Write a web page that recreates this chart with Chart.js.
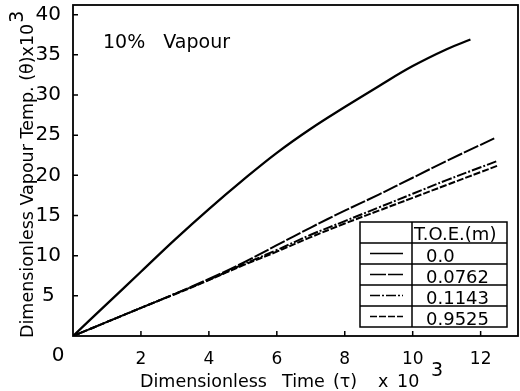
<!DOCTYPE html>
<html>
<head>
<meta charset="utf-8">
<script src="https://cdn.jsdelivr.net/npm/chart.js@4/dist/chart.umd.min.js"></script>
<style>
  html, body { margin: 0; padding: 0; background: #fff; }
  canvas { display: block; }
</style>
</head>
<body>
<canvas id="mycanvas" width="520" height="391"></canvas>
<script>
// values (theta and tau both x 10^3)
const tauA = [0, 1, 2, 3, 4, 5, 6, 7, 8, 9, 10, 11, 11.7];
const toe00 = [0, 4.0, 8.0, 12.0, 15.8, 19.4, 22.8, 25.8, 28.5, 31.1, 33.6, 35.7, 36.9];

const tauB = [0, 1, 2, 3, 4, 5, 6, 7, 8, 9, 10, 11, 12, 12.4];
const toe0762 = [0, 1.75, 3.5, 5.25, 7.1, 9.1, 11.3, 13.5, 15.6, 17.6, 19.7, 21.8, 23.8, 24.6];

const tauC = [0, 1, 2, 3, 4, 5, 6, 7, 8, 9, 10, 11, 12, 12.5];
const toe1143 = [0, 1.75, 3.5, 5.25, 7.0, 8.9, 10.7, 12.6, 14.3, 16.0, 17.7, 19.4, 21.0, 21.8];
const toe9525 = [0, 1.75, 3.5, 5.2, 6.95, 8.8, 10.5, 12.3, 14.0, 15.6, 17.2, 18.8, 20.4, 21.2];

const seriesLabels = ["0.0", "0.0762", "0.1143", "0.9525"];
const xTicks = [2, 4, 6, 8, 10, 12];
const yTicks = [5, 10, 15, 20, 25, 30, 35, 40];

const FONT = "'DejaVu Sans', sans-serif";

function pts(xs, ys) {
  return xs.map((x, i) => ({ x: x, y: ys[i] }));
}

// frame, inward ticks, titles, note, and the table legend
const paperPlugin = {
  id: 'paper',
  afterDraw(chart) {
    const ctx = chart.ctx;
    const a = chart.chartArea;
    const xs = chart.scales.x, ys = chart.scales.y;
    ctx.save();
    ctx.strokeStyle = '#000';
    ctx.fillStyle = '#000';

    ctx.lineWidth = 1.8;
    ctx.strokeRect(a.left, a.top, a.right - a.left, a.bottom - a.top);

    ctx.lineWidth = 1.5;
    ctx.beginPath();
    xTicks.forEach(v => {
      const px = xs.getPixelForValue(v);
      ctx.moveTo(px, a.bottom);
      ctx.lineTo(px, a.bottom - 5);
    });
    yTicks.forEach(v => {
      const py = ys.getPixelForValue(v);
      ctx.moveTo(a.left, py);
      ctx.lineTo(a.left + 5, py);
    });
    ctx.stroke();

    // origin label
    ctx.font = '20px ' + FONT;
    ctx.textAlign = 'center';
    ctx.textBaseline = 'middle';
    ctx.fillText('0', a.left - 15, a.bottom + 20);

    // x title, spaced like the original lettering
    ctx.textAlign = 'left';
    ctx.textBaseline = 'alphabetic';
    ctx.font = '17.5px ' + FONT;
    ctx.fillText('Dimensionless', 140, 387);
    ctx.fillText('Time', 282, 387);
    ctx.fillText('(\u03c4)', 333, 387);
    ctx.fillText('x', 378, 387);
    ctx.fillText('10', 397, 387);
    ctx.font = '19px ' + FONT;
    ctx.fillText('3', 431, 376);

    // y title
    ctx.save();
    ctx.translate(33, 338);
    ctx.rotate(-Math.PI / 2);
    ctx.font = '17.5px ' + FONT;
    const yt = 'Dimensionless Vapour Temp. (\u03b8)x10';
    ctx.fillText(yt, 0, 0);
    const yw = ctx.measureText(yt).width;
    ctx.font = '19px ' + FONT;
    ctx.fillText('3', yw + 1, -10);
    ctx.restore();

    // note
    ctx.font = '19px ' + FONT;
    ctx.fillText('10%   Vapour', 103, 48);

    // legend table
    const L = 360, R = 507, D = 412, T = 222, rh = 21;
    const rows = seriesLabels.length + 1;
    ctx.fillStyle = '#fff';
    ctx.fillRect(L, T, R - L, rh * rows);
    ctx.fillStyle = '#000';
    ctx.lineWidth = 1.5;
    ctx.strokeRect(L, T, R - L, rh * rows);
    ctx.beginPath();
    ctx.moveTo(D, T);
    ctx.lineTo(D, T + rh * rows);
    for (let i = 1; i < rows; i++) {
      ctx.moveTo(L, T + rh * i);
      ctx.lineTo(R, T + rh * i);
    }
    ctx.stroke();

    ctx.font = '18px ' + FONT;
    ctx.fillText('T.O.E.(m)', 414, T + rh - 3);
    chart.data.datasets.forEach((ds, i) => {
      const top = T + rh * (i + 1);
      ctx.fillText(ds.label, 426, top + rh - 2);
      ctx.save();
      ctx.lineWidth = 1.3;
      ctx.setLineDash(ds.borderDash || []);
      ctx.beginPath();
      ctx.moveTo(370, top + rh / 2);
      ctx.lineTo(403, top + rh / 2);
      ctx.stroke();
      ctx.restore();
    });

    ctx.restore();
  }
};

function createGraph() {
  const ctx = document.getElementById('mycanvas').getContext('2d');
  const lineStyle = { borderColor: '#000', borderWidth: 2, pointRadius: 0, tension: 0.4, fill: false };

  window.chart = new Chart(ctx, {
    type: 'line',
    data: {
      datasets: [
        Object.assign({ label: seriesLabels[0], data: pts(tauA, toe00) }, lineStyle, { borderWidth: 2.3 }),
        Object.assign({ label: seriesLabels[1], data: pts(tauB, toe0762), borderDash: [16, 2] }, lineStyle),
        Object.assign({ label: seriesLabels[2], data: pts(tauC, toe1143), borderDash: [10, 2, 2, 2] }, lineStyle),
        Object.assign({ label: seriesLabels[3], data: pts(tauC, toe9525), borderDash: [7, 2] }, lineStyle)
      ]
    },
    options: {
      responsive: false,
      animation: false,
      layout: { padding: { left: 35, top: 5, right: 2, bottom: 20 } },
      plugins: { legend: { display: false }, tooltip: { enabled: false } },
      scales: {
        x: {
          type: 'linear',
          min: 0,
          max: 13.1,
          afterBuildTicks: s => { s.ticks = xTicks.map(v => ({ value: v })); },
          afterFit: s => { s.height = 35; s.paddingLeft = 0; s.paddingRight = 0; },
          grid: { display: false, drawTicks: false },
          border: { display: false },
          ticks: { color: '#000', padding: 13, maxRotation: 0, font: { family: FONT, size: 17 } }
        },
        y: {
          min: 0,
          max: 41.2,
          afterBuildTicks: s => { s.ticks = yTicks.map(v => ({ value: v })); },
          afterFit: s => { s.width = 38; s.paddingTop = 0; s.paddingBottom = 0; },
          grid: { display: false, drawTicks: false },
          border: { display: false },
          ticks: { color: '#000', padding: 12, crossAlign: 'center', font: { family: FONT, size: 20 } }
        }
      }
    },
    plugins: [paperPlugin]
  });
}

createGraph();
</script>
</body>
</html>
